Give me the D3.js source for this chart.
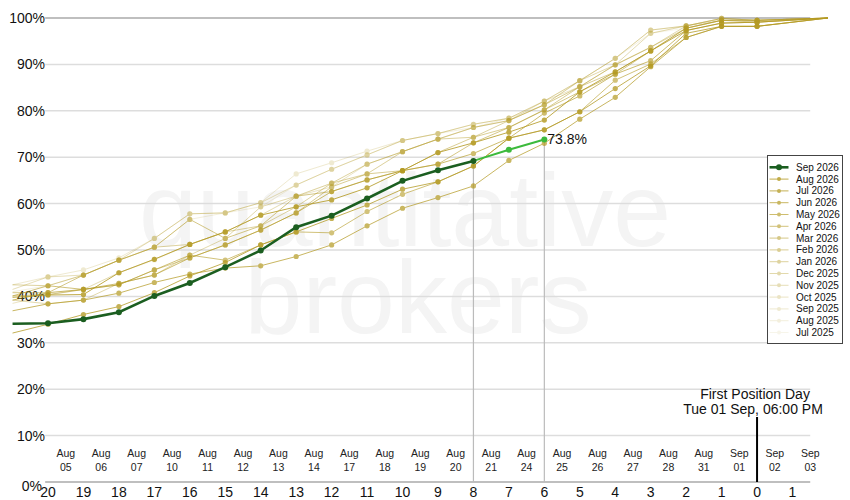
<!DOCTYPE html>
<html>
<head>
<meta charset="utf-8">
<script src="https://cdn.jsdelivr.net/npm/d3@7"></script>
<style>
  body { margin: 0; background: #fff; font-family: "Liberation Sans", Arial, sans-serif; }
</style>
</head>
<body>
<div id="chart"></div>
<script>
// step index: -1 = 21 days out, 20 = first position day, 22 = final 100%
const steps = [-1, 0, 1, 2, 3, 4, 5, 6, 7, 8, 9, 10, 11, 12, 13, 14, 15, 16, 17, 18, 19, 20, 22];
const dayLabels = ["20", "19", "18", "17", "16", "15", "14", "13", "12", "11", "10",
  "9", "8", "7", "6", "5", "4", "3", "2", "1", "0", "1"];
const dateLabels = ["Aug 05", "Aug 06", "Aug 07", "Aug 10", "Aug 11", "Aug 12", "Aug 13",
  "Aug 14", "Aug 17", "Aug 18", "Aug 19", "Aug 20", "Aug 21", "Aug 24", "Aug 25", "Aug 26",
  "Aug 27", "Aug 28", "Aug 31", "Sep 01", "Sep 02", "Sep 03"];
const yTicks = [0, 10, 20, 30, 40, 50, 60, 70, 80, 90, 100];

// current contract, steps -1..14 (12..14 is the live part)
const sep2026 = [34.1, 34.2, 35.1, 36.6, 40.1, 42.9, 46.3, 49.9, 54.9, 57.4, 61.1, 64.9, 67.2, 69.2, 71.6, 73.8];
const liveFrom = 12;

// previous contracts (% rolled), one value per step
const aug2026 = [39.8, 40.3, 40.4, 45.1, 48.0, 51.2, 53.9, 57.5, 59.3, 60.8, 63.4, 67.1, 71.0, 73.1, 75.4, 78.0, 84.1, 88.4, 92.9, 97.3, 98.9, 99.1, 100];
const jul2026 = [32.1, 34.0, 36.1, 37.8, 40.8, 44.4, 47.3, 51.1, 53.9, 56.8, 59.7, 63.1, 64.7, 68.1, 74.1, 75.9, 79.8, 84.8, 89.7, 96.7, 98.2, 98.2, 100];
const jun2026 = [36.9, 38.4, 39.2, 40.7, 43.0, 44.8, 46.1, 46.6, 48.6, 51.1, 55.2, 59.0, 61.3, 63.8, 69.3, 73.0, 78.2, 82.9, 89.5, 95.8, 98.2, 98.2, 100];
const may2026 = [39.2, 40.8, 41.5, 42.8, 44.6, 48.3, 51.1, 54.3, 58.0, 62.6, 65.1, 67.1, 68.5, 70.8, 74.1, 79.5, 83.2, 87.9, 90.8, 97.3, 98.9, 99.1, 100];
const apr2026 = [40.1, 42.3, 41.5, 42.5, 45.7, 48.9, 47.8, 51.1, 53.9, 53.7, 58.3, 62.0, 64.7, 68.1, 74.1, 75.9, 79.8, 86.6, 90.1, 95.8, 98.2, 98.2, 100];
const mar2026 = [40.8, 40.8, 44.6, 47.8, 50.6, 56.6, 52.5, 55.2, 61.6, 62.6, 65.1, 67.1, 68.5, 73.1, 76.4, 80.2, 84.1, 87.9, 92.9, 97.8, 99.5, 99.1, 100];
const feb2026 = [40.1, 40.4, 41.5, 42.5, 45.7, 48.3, 51.1, 54.3, 58.0, 63.6, 66.4, 67.1, 71.0, 74.3, 76.4, 80.2, 85.2, 88.4, 92.9, 97.8, 99.5, 99.5, 100];
const jan2026 = [42.5, 42.3, 44.6, 47.8, 50.6, 51.2, 53.9, 55.2, 59.3, 64.4, 68.5, 71.2, 73.9, 74.3, 77.9, 81.3, 85.2, 89.9, 93.7, 97.8, 99.5, 99.5, 100];
const dec2025 = [39.2, 38.4, 39.2, 42.8, 44.6, 48.9, 52.5, 59.3, 61.6, 64.4, 66.4, 71.2, 73.9, 76.4, 77.9, 81.3, 86.5, 89.9, 93.7, 98.3, 99.9, 99.5, 100];
const nov2025 = [41.5, 44.2, 44.6, 47.8, 52.5, 57.8, 58.0, 60.2, 64.0, 67.4, 70.5, 73.6, 75.1, 77.1, 78.4, 82.1, 86.5, 91.3, 97.4, 98.3, 99.9, 99.5, 100];
const oct2025 = [38.5, 40.3, 41.5, 45.1, 48.0, 51.2, 53.9, 57.5, 61.6, 63.6, 68.5, 71.2, 73.9, 76.4, 77.9, 82.1, 85.2, 89.9, 96.7, 98.3, 99.5, 99.5, 100];
const sep2025 = [42.5, 44.2, 45.7, 48.3, 52.5, 57.8, 58.0, 60.2, 66.4, 68.8, 71.3, 73.6, 75.1, 77.1, 78.4, 82.1, 86.5, 91.3, 97.4, 98.3, 99.9, 99.5, 100];
const aug2025 = [41.0, 42.3, 44.6, 47.8, 50.6, 56.6, 58.0, 59.3, 64.0, 67.4, 70.5, 73.6, 75.1, 76.4, 78.4, 81.3, 86.5, 91.3, 96.7, 98.3, 99.9, 99.5, 100];
const jul2025 = [40.1, 40.8, 41.5, 45.1, 47.8, 51.2, 53.9, 57.5, 61.6, 64.4, 66.4, 71.2, 73.9, 76.4, 77.9, 81.3, 85.2, 89.9, 96.7, 97.8, 99.5, 99.5, 100];

const pastNames = ["Aug 2026", "Jul 2026", "Jun 2026", "May 2026", "Apr 2026", "Mar 2026", "Feb 2026",
  "Jan 2026", "Dec 2025", "Nov 2025", "Oct 2025", "Sep 2025", "Aug 2025", "Jul 2025"];
const pastValues = [aug2026, jul2026, jun2026, may2026, apr2026, mar2026, feb2026,
  jan2026, dec2025, nov2025, oct2025, sep2025, aug2025, jul2025];

const gold = "#b49a22";
const darkGreen = "#1b5e20";
const liveGreen = "#3cba3c";

const svg = d3.select("#chart").append("svg")
  .attr("width", 850)
  .attr("height", 500);

const x = d3.scaleLinear().domain([0, 21]).range([48, 792.5]);
const y = d3.scaleLinear().domain([0, 100]).range([482, 18]);

const opacity = (k) => 0.82 - k * 0.056;

// watermark
svg.append("text").attr("x", 405).attr("y", 246)
  .attr("text-anchor", "middle").style("font-size", "104px").style("fill", "#f4f4f4")
  .text("quantitative");
svg.append("text").attr("x", 418).attr("y", 333)
  .attr("text-anchor", "middle").style("font-size", "104px").style("fill", "#f4f4f4")
  .text("brokers");

// horizontal grid
svg.append("g").selectAll("line").data(yTicks).enter().append("line")
  .attr("x1", x(-0.08)).attr("x2", x(21.5))
  .attr("y1", (d) => y(d)).attr("y2", (d) => y(d))
  .style("stroke", (d) => (d === 0 || d === 100 ? "#aaa" : "#ddd"))
  .style("stroke-width", 1.5);

// y labels
svg.append("g").selectAll("text").data(yTicks).enter().append("text")
  .attr("x", (d) => (d === 0 ? 42 : 45))
  .attr("y", (d) => y(d))
  .attr("dy", (d) => (d === 0 ? "0.65em" : "0.35em"))
  .attr("text-anchor", "end")
  .style("font-size", "14px").style("fill", "#111")
  .text((d) => d + "%");

// x labels: dates between ticks, business-day countdown on ticks
const dates = svg.append("g").selectAll("g").data(dateLabels).enter().append("g")
  .attr("transform", (d, i) => "translate(" + x(i + 0.5) + ",0)");
dates.append("text").attr("y", 457).attr("text-anchor", "middle")
  .style("font-size", "10.5px").style("fill", "#222")
  .text((d) => d.split(" ")[0]);
dates.append("text").attr("y", 471).attr("text-anchor", "middle")
  .style("font-size", "10.5px").style("fill", "#222")
  .text((d) => d.split(" ")[1]);

svg.append("g").selectAll("text").data(dayLabels).enter().append("text")
  .attr("x", (d, i) => x(i)).attr("y", 497)
  .attr("text-anchor", "middle")
  .style("font-size", "14px").style("fill", "#111")
  .text((d) => d);

// first position day marker
svg.append("line")
  .attr("x1", x(20)).attr("x2", x(20))
  .attr("y1", 417).attr("y2", y(0))
  .style("stroke", "#000").style("stroke-width", 2);
svg.append("text").attr("x", x(20) - 2).attr("y", 399).attr("text-anchor", "middle")
  .style("font-size", "14px").style("fill", "#111").text("First Position Day");
svg.append("text").attr("x", x(20) - 4).attr("y", 414).attr("text-anchor", "middle")
  .style("font-size", "14px").style("fill", "#111").text("Tue 01 Sep, 06:00 PM");

// vertical markers at the live segment
const liveMarks = [liveFrom, sep2026.length - 2];
svg.append("g").selectAll("line").data(liveMarks).enter().append("line")
  .attr("x1", (d) => x(d)).attr("x2", (d) => x(d))
  .attr("y1", (d) => y(sep2026[d + 1])).attr("y2", y(0))
  .style("stroke", "#bbb").style("stroke-width", 1.2);

const line = d3.line()
  .x((d) => x(d.i))
  .y((d) => y(d.v));

const toPoints = (vals) => vals.map((v, j) => ({ i: steps[j], v: v }));

// past contracts, oldest first
const past = svg.append("g");
for (let k = pastValues.length - 1; k >= 0; k--) {
  const pts = toPoints(pastValues[k]);
  const g = past.append("g").style("opacity", opacity(k));
  g.append("path")
    .attr("d", line(pts))
    .style("fill", "none")
    .style("stroke", gold)
    .style("stroke-width", 1);
  g.selectAll("circle")
    .data(pts.filter((p) => p.i >= 0 && p.i <= 20))
    .enter().append("circle")
    .attr("cx", (d) => x(d.i))
    .attr("cy", (d) => y(d.v))
    .attr("r", 2.6)
    .style("fill", gold);
}

// current contract
const cur = toPoints(sep2026);
const done = cur.filter((p) => p.i <= liveFrom);
const live = cur.filter((p) => p.i >= liveFrom);
svg.append("path").attr("d", line(live))
  .style("fill", "none").style("stroke", liveGreen).style("stroke-width", 2);
svg.append("path").attr("d", line(done))
  .style("fill", "none").style("stroke", darkGreen).style("stroke-width", 2.6);
svg.append("g").selectAll("circle")
  .data(cur.filter((p) => p.i >= 0)).enter().append("circle")
  .attr("cx", (d) => x(d.i))
  .attr("cy", (d) => y(d.v))
  .attr("r", 3)
  .style("fill", (d) => (d.i > liveFrom ? liveGreen : darkGreen));

const last = cur[cur.length - 1];
svg.append("text")
  .attr("x", x(last.i) + 3).attr("y", y(last.v)).attr("dy", "0.35em")
  .style("font-size", "14px").style("fill", "#111")
  .text(last.v.toFixed(1) + "%");

// legend
const legendNames = ["Sep 2026"].concat(pastNames);
const legend = svg.append("g").attr("transform", "translate(767.5,155.5)");
legend.append("rect")
  .attr("width", 75).attr("height", 188)
  .style("fill", "#fff").style("stroke", "#444").style("stroke-width", 1);
const items = legend.selectAll("g.item").data(legendNames).enter().append("g")
  .attr("class", "item")
  .attr("transform", (d, i) => "translate(0," + (11.8 + i * 11.8) + ")");
const swatch = items.append("g")
  .style("opacity", (d, i) => (i === 0 ? 1 : opacity(i - 1)));
swatch.append("line")
  .attr("x1", 2).attr("x2", 21)
  .style("stroke", (d, i) => (i === 0 ? darkGreen : gold))
  .style("stroke-width", (d, i) => (i === 0 ? 2.6 : 1));
swatch.append("circle")
  .attr("cx", 11.5).attr("r", (d, i) => (i === 0 ? 3 : 2))
  .style("fill", (d, i) => (i === 0 ? darkGreen : gold));
items.append("text")
  .attr("x", 28.5).attr("dy", "0.35em")
  .style("font-size", "10px").style("fill", "#111")
  .text((d) => d);
</script>
</body>
</html>
